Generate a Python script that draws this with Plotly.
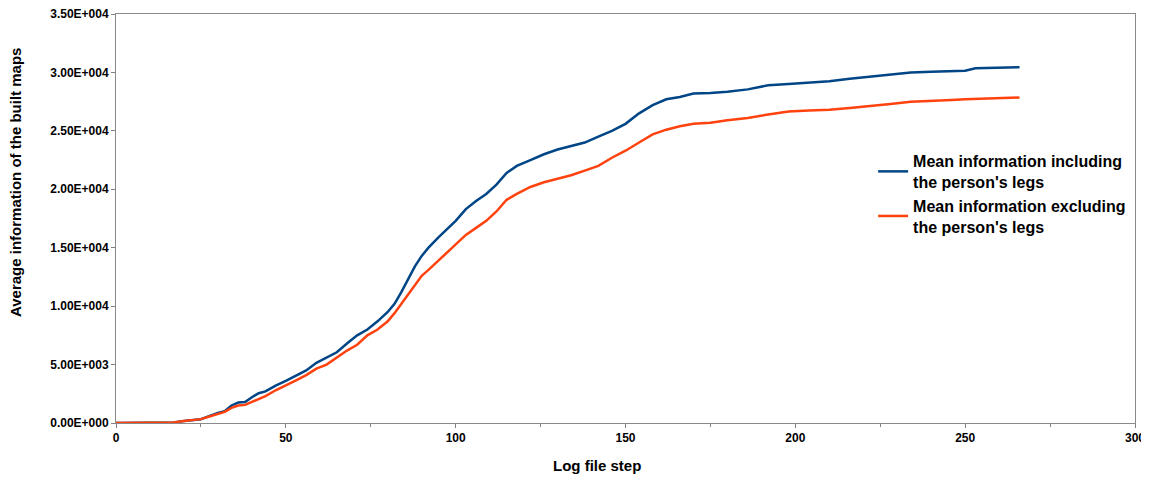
import plotly.graph_objects as go

# Data
steps_incl = [0, 10, 17, 20, 22, 25, 28, 30, 32, 34, 36, 38, 40, 42, 44, 47, 50, 53, 56, 59, 62, 65, 68, 71, 74, 77,
              80, 82, 84, 86, 88, 90, 92, 95, 98, 100, 103, 106, 109, 112, 115, 118, 122, 126, 130, 134, 138, 142,
              146, 150, 154, 158, 162, 166, 170, 175, 180, 186, 192, 198, 204, 210, 216, 222, 228, 234, 240, 246,
              250, 253, 258, 262, 266]
info_incl = [0, 0, 50, 180, 250, 320, 650, 860, 1000, 1500, 1750, 1800, 2200, 2550, 2700, 3200, 3600, 4050, 4500,
             5150, 5600, 6050, 6800, 7500, 8000, 8700, 9500, 10200, 11200, 12300, 13400, 14300, 15000, 15900, 16700,
             17300, 18300, 19000, 19600, 20400, 21400, 22000, 22500, 23000, 23400, 23700, 24000, 24500, 25000,
             25600, 26500, 27200, 27700, 27900, 28200, 28250, 28350, 28550, 28900, 29000, 29100, 29250, 29450,
             29650, 29850, 30000, 30050, 30100, 30150, 30350, 30400, 30420, 30450]

steps_excl = [0, 10, 17, 20, 22, 25, 28, 30, 32, 34, 36, 38, 40, 42, 44, 47, 50, 53, 56, 59, 62, 65, 68, 71, 74, 77,
              80, 82, 84, 86, 88, 90, 92, 95, 98, 100, 103, 106, 109, 112, 115, 118, 122, 126, 130, 134, 138, 142,
              146, 150, 154, 158, 162, 166, 170, 175, 180, 186, 192, 198, 204, 210, 216, 222, 228, 234, 240, 246,
              250, 256, 262, 266]
info_excl = [0, 0, 50, 180, 250, 330, 600, 750, 950, 1300, 1500, 1550, 1800, 2100, 2300, 2800, 3200, 3650, 4100,
             4650, 5000, 5600, 6200, 6700, 7500, 8000, 8700, 9400, 10200, 10900, 11700, 12600, 13100, 13900, 14700,
             15300, 16100, 16700, 17300, 18100, 19100, 19600, 20200, 20600, 20900, 21200, 21600, 22000, 22700,
             23300, 24000, 24700, 25100, 25400, 25600, 25700, 25900, 26100, 26400, 26650, 26750, 26800, 26950,
             27100, 27300, 27500, 27600, 27650, 27700, 27750, 27800, 27850]

series_names = ["Mean information including<br>the person's legs",
                "Mean information excluding<br>the person's legs"]

y_tick_vals = [0, 5000, 10000, 15000, 20000, 25000, 30000, 35000]
y_tick_text = ["0.00E+000", "5.00E+003", "1.00E+004", "1.50E+004", "2.00E+004", "2.50E+004", "3.00E+004",
               "3.50E+004"]
x_tick_vals = [0, 50, 100, 150, 200, 250, 300]

FONT = "Liberation Sans, Arial, sans-serif"

fig = go.Figure()
fig.add_trace(go.Scatter(x=steps_incl, y=info_incl, mode="lines", name=series_names[0],
                         line=dict(color="#004586", width=2.5)))
fig.add_trace(go.Scatter(x=steps_excl, y=info_excl, mode="lines", name=series_names[1],
                         line=dict(color="#ff420e", width=2.5)))

fig.update_layout(
    width=1141, height=469,
    margin=dict(l=108, r=14, t=6, b=54, autoexpand=False),
    paper_bgcolor="white", plot_bgcolor="white",
    font=dict(family=FONT, color="black", size=12),
    showlegend=True,
    legend=dict(x=0.743, y=0.682, xanchor="left", yanchor="top",
                font=dict(family=FONT, size=16, weight="bold", color="black"),
                itemwidth=30, bgcolor="rgba(0,0,0,0)", tracegroupgap=2),
    annotations=[
        dict(text="Log file step", xref="paper", yref="paper", x=0.472, y=-0.1051,
             xanchor="center", yanchor="middle", showarrow=False,
             font=dict(family=FONT, size=15, weight="bold", color="black")),
        dict(text="Average information of the built maps", xref="paper", yref="paper", x=-0.0981, y=0.5868,
             xanchor="center", yanchor="middle", showarrow=False, textangle=-90,
             font=dict(family=FONT, size=15, weight="bold", color="black")),
    ],
)

fig.update_xaxes(range=[0, 300], tickvals=x_tick_vals, ticks="outside", ticklen=4, tickcolor="#808080",
                 showline=True, linecolor="#8a8a8a", linewidth=1, mirror=True, showgrid=False, zeroline=False,
                 automargin=False, ticklabeloverflow="allow",
                 tickfont=dict(family=FONT, size=12, weight="bold", color="black"),
                 minor=dict(dtick=25, tick0=0, ticks="outside", ticklen=3, tickcolor="#808080", showgrid=False))
fig.update_yaxes(range=[0, 35000], tickvals=y_tick_vals, ticktext=y_tick_text, ticks="outside", ticklen=4,
                 tickcolor="#808080", showline=True, linecolor="#8a8a8a", linewidth=1, mirror=True,
                 showgrid=False, zeroline=False, automargin=False, ticklabeloverflow="allow",
                 tickfont=dict(family=FONT, size=12, weight="bold", color="black"))

fig.write_html("out.html")
